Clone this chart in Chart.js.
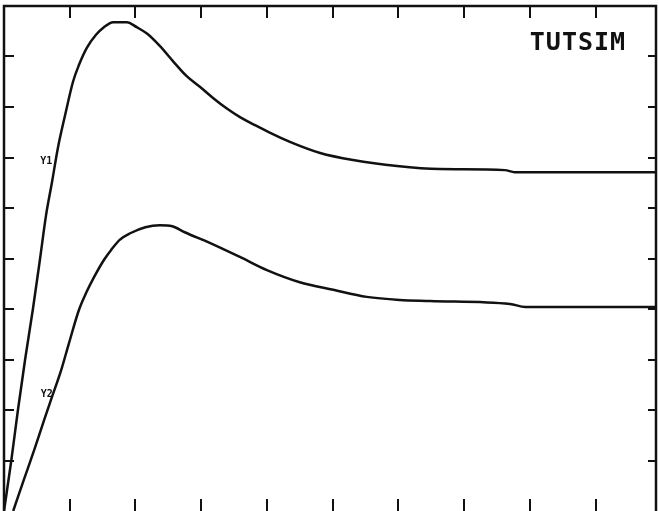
<!DOCTYPE html>
<html>
<head>
<meta charset="utf-8">
<script src="https://cdn.jsdelivr.net/npm/chart.js@4/dist/chart.umd.min.js"></script>
<style>
  html, body { margin: 0; padding: 0; background: #fff; }
  #wrap { width: 659px; height: 511px; }
</style>
</head>
<body>
<div id="wrap"><canvas id="tutsim_chart"></canvas></div>
<script>
// TUTSIM response curves (x 0..9.92, y 0..10)
var y1X = [0.00, 0.11, 0.21, 0.32, 0.44, 0.55, 0.64, 0.73, 0.82, 0.93, 1.05, 1.14, 1.26, 1.40, 1.52, 1.66, 1.87, 2.02, 2.18, 2.37, 2.57, 2.78, 2.98, 3.18, 3.38, 3.59, 3.82, 4.05, 4.35, 4.81, 5.31, 5.98, 6.63, 7.62, 7.77, 9.92]
var y1Y = [0.00, 0.99, 1.98, 2.99, 4.00, 5.01, 5.86, 6.51, 7.19, 7.84, 8.50, 8.83, 9.17, 9.43, 9.58, 9.68, 9.68, 9.58, 9.45, 9.21, 8.91, 8.61, 8.40, 8.18, 7.98, 7.80, 7.64, 7.49, 7.31, 7.09, 6.95, 6.83, 6.77, 6.75, 6.71, 6.71]

var y2X = [0.14, 0.30, 0.46, 0.61, 0.73, 0.87, 0.99, 1.14, 1.25, 1.37, 1.52, 1.63, 1.76, 1.92, 2.15, 2.37, 2.56, 2.75, 3.13, 3.59, 4.00, 4.50, 5.01, 5.52, 6.02, 6.48, 7.70, 7.93, 9.92]
var y2Y = [0.00, 0.61, 1.21, 1.80, 2.26, 2.79, 3.33, 3.98, 4.32, 4.63, 4.97, 5.17, 5.37, 5.50, 5.62, 5.66, 5.64, 5.52, 5.31, 5.03, 4.77, 4.53, 4.38, 4.24, 4.18, 4.16, 4.10, 4.04, 4.04]

var xTicks = [1, 2, 3, 4, 5, 6, 7, 8, 9]
var yTicks = [1, 2, 3, 4, 5, 6, 7, 8, 9]

function toPoints(xs, ys) {
  var pts = []
  for (var i = 0; i < xs.length; i++) pts.push({ x: xs[i], y: ys[i] })
  return pts
}

// frame with inward ticks, like the plotter output
var framePlugin = {
  id: 'frame',
  afterDraw: function (chart) {
    var ctx = chart.ctx
    var a = chart.chartArea
    var xs = chart.scales.x
    var ys = chart.scales.y
    ctx.save()
    ctx.strokeStyle = '#111'
    ctx.lineWidth = 2.5
    ctx.beginPath()
    ctx.moveTo(a.left, a.bottom)
    ctx.lineTo(a.left, a.top)
    ctx.lineTo(a.right, a.top)
    ctx.lineTo(a.right, a.bottom)
    ctx.stroke()
    ctx.lineWidth = 2
    ctx.beginPath()
    xTicks.forEach(function (v) {
      var px = Math.round(xs.getPixelForValue(v))
      ctx.moveTo(px, a.top)
      ctx.lineTo(px, a.top + 12)
      ctx.moveTo(px, a.bottom)
      ctx.lineTo(px, a.bottom - 12)
    })
    yTicks.forEach(function (v) {
      var py = Math.round(ys.getPixelForValue(v))
      ctx.moveTo(a.left, py)
      ctx.lineTo(a.left + 10, py)
      ctx.moveTo(a.right, py)
      ctx.lineTo(a.right - 8, py)
    })
    ctx.stroke()

    ctx.fillStyle = '#111'
    ctx.textBaseline = 'alphabetic'
    ctx.font = 'bold 10px "DejaVu Sans Mono"'
    ctx.fillText('Y1', xs.getPixelForValue(0.55), ys.getPixelForValue(6.88))
    ctx.fillText('Y2', xs.getPixelForValue(0.56), ys.getPixelForValue(2.26))
    ctx.font = 'bold 25px "DejaVu Sans Mono"'
    ctx.letterSpacing = '1px'
    ctx.fillText('TUTSIM', xs.getPixelForValue(8.0), ys.getPixelForValue(9.12))
    ctx.restore()
  }
}

var ctx = document.getElementById('tutsim_chart').getContext('2d')
var myChart = new Chart(ctx, {
  type: 'line',
  data: {
    datasets: [
      {
        label: 'Y1',
        data: toPoints(y1X, y1Y),
        borderColor: '#111',
        borderWidth: 2.5,
        pointRadius: 0,
        cubicInterpolationMode: 'monotone',
        fill: false,
      },
      {
        label: 'Y2',
        data: toPoints(y2X, y2Y),
        borderColor: '#111',
        borderWidth: 2.5,
        pointRadius: 0,
        cubicInterpolationMode: 'monotone',
        fill: false,
      },
    ],
  },
  options: {
    responsive: true,
    maintainAspectRatio: false,
    animation: false,
    layout: { padding: { left: 4, top: 6, right: 3, bottom: 0 } },
    plugins: { legend: { display: false }, tooltip: { enabled: false } },
    scales: {
      x: { type: 'linear', min: 0, max: 9.92, display: false },
      y: { type: 'linear', min: 0, max: 10, display: false },
    },
  },
  plugins: [framePlugin],
})
</script>
</body>
</html>
